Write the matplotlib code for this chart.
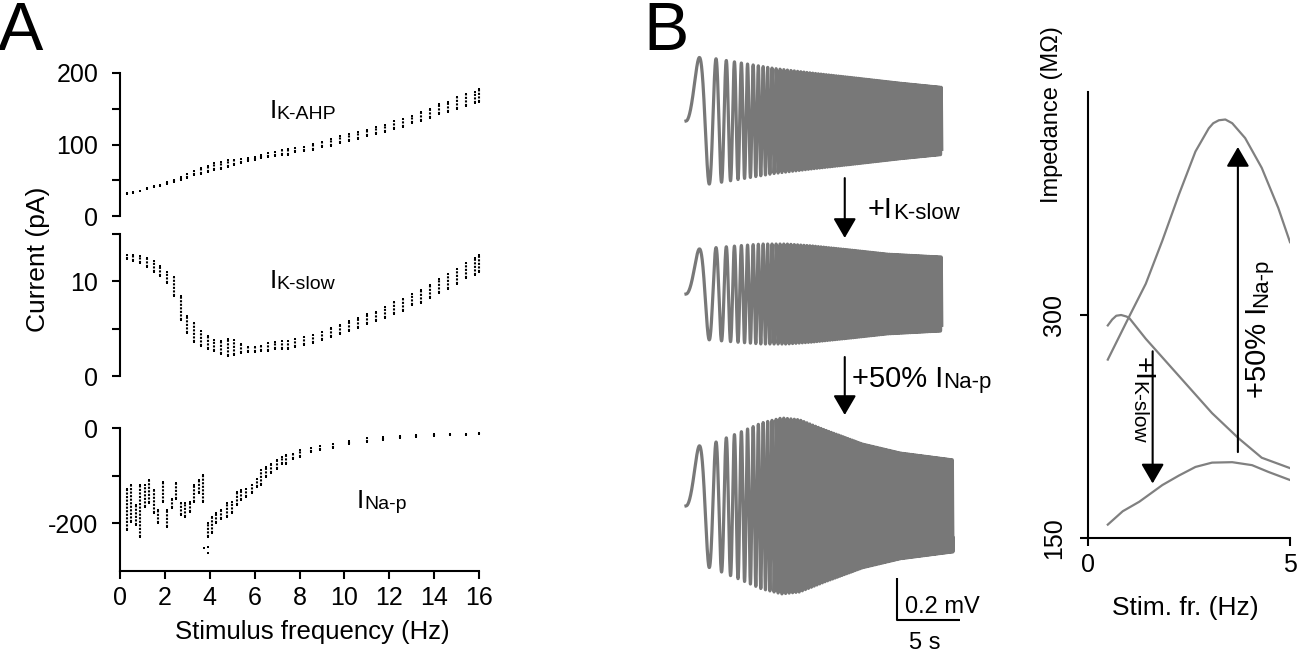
import numpy as np
import matplotlib
matplotlib.use("Agg")
import matplotlib.pyplot as plt

plt.rcParams["font.family"] = ["Liberation Sans", "DejaVu Sans"]
plt.rcParams["axes.unicode_minus"] = False

# ---- panel A: currents vs stimulus frequency (cluster mid / half range) ----
freq_a = [0.3, 0.6, 0.9, 1.2, 1.5, 1.8, 2.1, 2.4, 2.7, 3.0, 3.3, 3.6, 3.9, 4.2, 4.5, 4.8,
          5.1, 5.4, 5.7, 6.0, 6.3, 6.6, 6.9, 7.2, 7.5, 7.8, 8.2, 8.6, 9.0, 9.4, 9.8, 10.2,
          10.6, 11.0, 11.4, 11.8, 12.2, 12.6, 13.0, 13.4, 13.8, 14.2, 14.6, 15.0, 15.4, 15.8, 16.0]
ahp_mid = [31, 33, 35, 38, 41, 43, 46, 49, 52, 56, 60, 63, 66, 69, 71, 73, 75, 77, 79, 81,
           83, 85, 87, 89, 90, 92, 94, 97, 100, 103, 107, 110, 113, 116, 119, 122,
           127, 130, 135, 139, 143, 149, 153, 158, 162, 166, 169]
ahp_half = [0.5, 0.5, 0.5, 0.5, 1, 1, 1, 1.5, 2, 2.5, 3, 4, 4, 5, 5, 5, 4, 3, 2, 2,
            2.5, 3, 3, 3.5, 4, 3, 3, 4, 4, 5, 5, 5, 5, 4, 5, 5,
            6, 5, 5, 6, 6, 7, 7, 8, 8, 8, 9]
slow_mid = [12.6, 12.5, 12.3, 12.0, 11.6, 11.1, 10.4, 9.5, 7.2, 5.4, 4.6, 4.0, 3.5, 3.2, 3.0, 3.0,
            3.0, 2.9, 2.8, 2.8, 2.9, 3.05, 3.2, 3.3, 3.3, 3.5, 3.7, 3.9, 4.2, 4.6, 4.9, 5.3,
            5.6, 6.0, 6.3, 6.7, 7.2, 7.5, 8.1, 8.4, 8.9, 9.5, 10.0, 10.5, 11.1, 11.6, 11.9]
slow_half = [0.2, 0.3, 0.4, 0.5, 0.6, 0.5, 0.6, 1.0, 1.3, 0.9, 1.0, 0.8, 0.7, 0.6, 0.7, 0.9,
             0.8, 0.5, 0.3, 0.3, 0.3, 0.4, 0.4, 0.4, 0.4, 0.4, 0.4, 0.4, 0.4, 0.5, 0.5, 0.5,
             0.5, 0.5, 0.5, 0.6, 0.6, 0.6, 0.6, 0.7, 0.7, 0.7, 0.8, 0.8, 0.8, 0.9, 0.9]

nap_freq = [0.3, 0.5, 0.7, 0.9, 1.1, 1.3, 1.5, 1.7, 1.9, 2.1, 2.3, 2.5, 2.7, 2.9, 3.1, 3.3,
            3.5, 3.7, 3.9, 4.1, 4.3, 4.5, 4.75, 5.0, 5.2, 5.4, 5.6, 5.9, 6.1, 6.3, 6.5, 6.75,
            7.0, 7.2, 7.4, 7.7, 8.0, 8.5, 8.9, 9.5, 10.2, 11.0, 11.7, 12.5, 13.2, 14.0, 14.7, 15.4, 16.0]
nap_lo = [-213, -197, -204, -228, -165, -158, -179, -200, -155, -207, -168, -148, -183, -186,
          -176, -155, -137, -155, -228, -221, -200, -190, -186, -179, -162, -151, -144, -137,
          -123, -120, -102, -95, -85, -75, -75, -64, -61, -50, -47, -41, -34, -29, -26, -22,
          -19, -16, -15, -14, -13]
nap_hi = [-127, -120, -162, -120, -120, -109, -130, -172, -113, -172, -148, -116, -158, -158,
          -155, -120, -109, -99, -200, -186, -179, -172, -158, -155, -134, -130, -127, -120,
          -106, -88, -81, -75, -68, -61, -57, -54, -47, -41, -38, -33, -27, -22, -19, -17,
          -15, -13, -12, -12, -10]
nap_out_f = [3.75, 3.9, 3.9]
nap_out_v = [-252, -250, -262]

# ---- panel B: voltage responses (envelope half-amplitude, mV) ----
trace_center = [2.543, 1.719, 0.71]
env_t1 = [0, 2, 4, 7, 10, 13.4, 17, 20.3]
env_a1 = [0.305, 0.300, 0.280, 0.250, 0.228, 0.205, 0.180, 0.160]
env_t2 = [0, 2, 4, 6, 8, 10, 13, 16, 20.3]
env_a2 = [0.210, 0.219, 0.229, 0.238, 0.238, 0.229, 0.210, 0.190, 0.176]
env_t3 = [0, 2, 4, 6, 7.6, 9, 11, 14, 17, 21.2]
env_a3 = [0.276, 0.295, 0.343, 0.395, 0.419, 0.410, 0.362, 0.295, 0.252, 0.219]
zap_rate = 0.44  # Hz per s

# ---- impedance profiles ----
imp_f_ctrl = [0.49, 0.6, 0.7, 0.82, 0.95, 1.02, 1.43, 2.25, 3.07, 3.73, 4.3, 5.0]
imp_ctrl = [293, 297, 299.5, 300, 299, 298, 284, 259, 234, 217, 204, 197]
imp_f_nap = [0.49, 1.02, 1.43, 1.84, 2.25, 2.66, 2.99, 3.1, 3.24, 3.4, 3.57, 3.89, 4.3, 4.71, 5.0]
imp_nap = [270, 299, 321, 350, 381, 410, 425.6, 429, 431, 431.5, 429, 419, 399, 372, 349]
imp_f_ks = [0.49, 0.86, 1.27, 1.84, 2.25, 2.66, 3.07, 3.57, 4.06, 4.47, 5.0]
imp_ks = [159, 168, 174.4, 185.6, 192, 197.8, 200.7, 201, 199, 194.4, 189]

W, H = 1298, 655
fig = plt.figure(figsize=(W / 100, H / 100), dpi=100)


def px_axes(l, t, r, b):
    return fig.add_axes([l / W, 1 - b / H, (r - l) / W, (b - t) / H])


def style(ax, show_x=False, ypad=10):
    for s in ["top", "right"]:
        ax.spines[s].set_visible(False)
    ax.spines["bottom"].set_visible(show_x)
    for s in ["left", "bottom"]:
        ax.spines[s].set_linewidth(1.5)
    ax.tick_params(axis="y", which="both", width=1.5, length=5.5, labelsize=18, pad=ypad)
    ax.tick_params(axis="x", which="both", width=1.5, length=5.5, labelsize=18, pad=5)
    if not show_x:
        ax.tick_params(axis="x", bottom=False, labelbottom=False)


def clusters(ax, f, lo, hi):
    ax.vlines(f, lo, hi, colors="k", linewidth=1.5, linestyles=(0, (1.0, 0.7)), clip_on=False)
    ax.scatter(f, lo, s=3, marker="s", c="k", lw=0, clip_on=False)
    ax.scatter(f, hi, s=3, marker="s", c="k", lw=0, clip_on=False)


def sub_label(ax, x, y, main, sub, size=19, subsize=14):
    t = ax.text(x, y, main, fontsize=size, va="baseline", ha="left")
    ax.annotate(sub, xy=(1, 0), xycoords=t, fontsize=subsize, va="bottom", ha="left")


# top: I K-AHP
ax1 = px_axes(120, 73, 479, 216)
lo = np.array(ahp_mid) - np.array(ahp_half)
hi = np.array(ahp_mid) + np.array(ahp_half)
clusters(ax1, freq_a, lo, hi)
ax1.set_xlim(0, 16)
ax1.set_ylim(0, 200)
ax1.set_yticks([0, 100, 200])
ax1.set_yticks([50, 150], minor=True)
style(ax1)
sub_label(ax1, 6.65, 137, "I", "K-AHP")

# middle: I K-slow
ax2 = px_axes(120, 234, 479, 376)
lo = np.array(slow_mid) - np.array(slow_half)
hi = np.array(slow_mid) + np.array(slow_half)
clusters(ax2, freq_a, lo, hi)
ax2.set_xlim(0, 16)
ax2.set_ylim(0, 15)
ax2.set_yticks([0, 10])
ax2.set_yticks([5, 15], minor=True)
style(ax2)
sub_label(ax2, 6.65, 9.3, "I", "K-slow")

# bottom: I Na-p
ax3 = px_axes(120, 428, 479, 571)
clusters(ax3, nap_freq, nap_lo, nap_hi)
ax3.scatter(nap_out_f, nap_out_v, s=3, marker="s", c="k", lw=0)
ax3.set_xlim(0, 16)
ax3.set_ylim(-300, 0)
ax3.set_yticks([-200, 0])
ax3.set_yticks([-100], minor=True)
ax3.set_xticks(range(0, 17, 2))
style(ax3, show_x=True)
sub_label(ax3, 10.55, -168, "I", "Na-p")

fig.text(38 / W, 1 - 259 / H, "Current (pA)", rotation=90, fontsize=19, ha="center", va="center")
fig.text(312 / W, 1 - 632 / H, "Stimulus frequency (Hz)", fontsize=18.5, ha="center", va="center")
fig.text(-2 / W, 1 - 50 / H, "A", fontsize=49, ha="left", va="baseline")
fig.text(643 / W, 1 - 50 / H, "B", fontsize=49, ha="left", va="baseline")

# ---- panel B traces ----
axb = px_axes(680, 40, 1000, 655)
axb.set_xlim((680 - 686) / 12.6, (1000 - 686) / 12.6)
axb.set_ylim(0, 615 * 0.2 / 42)
axb.axis("off")
gray = "#787878"
for c, et, ea in zip(trace_center, [env_t1, env_t2, env_t3], [env_a1, env_a2, env_a3]):
    t = np.linspace(0, et[-1], 80000)
    v = c + np.interp(t, et, ea) * np.sin(2 * np.pi * 0.5 * zap_rate * t ** 2)
    axb.plot(t, v, color=gray, lw=2.3)

arrow_kw = dict(arrowstyle="-|>,head_length=0.6,head_width=0.35", color="k", lw=1.5,
                shrinkA=0, shrinkB=0, mutation_scale=20)
axb.annotate("", xy=(12.6, 1.986), xytext=(12.6, 2.271), arrowprops=arrow_kw)
axb.annotate("", xy=(12.6, 1.143), xytext=(12.6, 1.419), arrowprops=arrow_kw)
sub_label(axb, 14.45, 2.08, "+I", "K-slow", size=21, subsize=16)
sub_label(axb, 13.2, 1.275, "+50% I", "Na-p", size=21, subsize=16)

# scale bar: 5 s, 0.2 mV
axb.plot([16.75, 16.75, 21.75], [0.3667, 0.1667, 0.1667], color="k", lw=1.5, solid_capstyle="butt")
axb.text(17.4, 0.2, "0.2 mV", fontsize=17, ha="left", va="baseline")
axb.text(17.7, 0.03, "5 s", fontsize=17, ha="left", va="baseline")

# ---- impedance ----
axz = px_axes(1088, 92, 1290, 538)
axz.plot(imp_f_ctrl, imp_ctrl, color="#808080", lw=1.6)
axz.plot(imp_f_nap, imp_nap, color="#808080", lw=1.6)
axz.plot(imp_f_ks, imp_ks, color="#808080", lw=1.6)
axz.set_xlim(0, 5)
axz.set_ylim(150, 450)
axz.set_xticks([0, 5])
axz.set_yticks([150, 300])
axz.set_yticklabels(["150", "300"], rotation=90, va="center")
style(axz, show_x=True, ypad=10)

axz.annotate("", xy=(1.6, 186.7), xytext=(1.6, 275.6), arrowprops=arrow_kw)
axz.annotate("", xy=(3.71, 413), xytext=(3.71, 207.8), arrowprops=arrow_kw)

t1 = axz.text(1.0, 272, "+I", fontsize=20, rotation=-90, ha="left", va="top")
axz.annotate("K-slow", xy=(0, 0), xycoords=t1, fontsize=15, rotation=-90, ha="left", va="top")
t2 = axz.text(4.55, 244, "+50% I", fontsize=21, rotation=90, ha="right", va="bottom")
axz.annotate("Na-p", xy=(1, 1), xycoords=t2, fontsize=16, rotation=90, ha="right", va="bottom")

fig.text(1052 / W, 1 - 115 / H, "Impedance (M\u03a9)", rotation=90, fontsize=17, ha="center", va="center")
fig.text(1185 / W, 1 - 608 / H, "Stim. fr. (Hz)", fontsize=19, ha="center", va="center")

fig.savefig("out.png", dpi=100)
